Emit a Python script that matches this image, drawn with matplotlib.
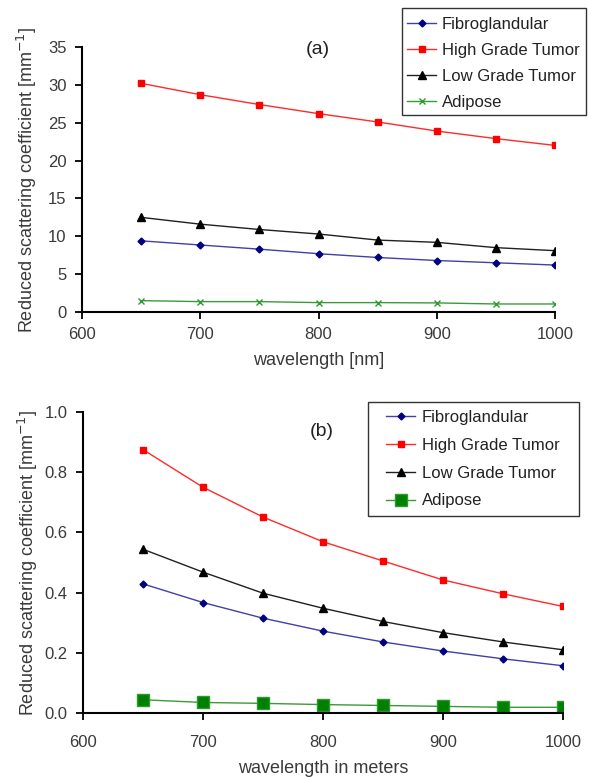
import matplotlib.pyplot as plt
from matplotlib.patches import Rectangle
import numpy as np

plt.rcParams['font.family'] = ['Liberation Sans', 'DejaVu Sans']

# wavelength [nm]
wavelength = [650, 700, 750, 800, 850, 900, 950, 1000]

# (a) reduced scattering coefficient [mm^-1]
fibro_a = [9.4, 8.85, 8.3, 7.7, 7.2, 6.8, 6.5, 6.2]
high_a = [30.2, 28.7, 27.4, 26.2, 25.1, 23.9, 22.9, 22.0]
low_a = [12.5, 11.6, 10.9, 10.3, 9.5, 9.2, 8.5, 8.1]
adipose_a = [1.5, 1.37, 1.37, 1.24, 1.24, 1.2, 1.06, 1.06]

# (b)
fibro_b = [0.429, 0.367, 0.315, 0.272, 0.236, 0.206, 0.180, 0.157]
high_b = [0.875, 0.750, 0.651, 0.569, 0.505, 0.442, 0.396, 0.354]
low_b = [0.544, 0.468, 0.398, 0.348, 0.304, 0.267, 0.236, 0.210]
adipose_b = [0.044, 0.035, 0.032, 0.028, 0.025, 0.022, 0.019, 0.019]

labels = ['Fibroglandular', 'High Grade Tumor', 'Low Grade Tumor', 'Adipose']
ylab = r'Reduced scattering coefficient [mm$^{-1}$]'
txt = '#3a3a3a'

W, H = 590, 777
fig = plt.figure(figsize=(5.9, 7.77), dpi=100)
ax1 = fig.add_axes([82 / W, 1 - 312 / H, 473 / W, 265 / H])
ax2 = fig.add_axes([83 / W, 1 - 713 / H, 480 / W, 301 / H])


def style_axis(ax, xpad):
    for s in ['top', 'right']:
        ax.spines[s].set_visible(False)
    for s in ['left', 'bottom']:
        ax.spines[s].set_linewidth(1.5)
    ax.tick_params(direction='out', length=5, width=1.3, labelsize=12,
                   labelcolor=txt)
    ax.tick_params(axis='y', pad=6)
    ax.tick_params(axis='x', pad=xpad)
    ax.set_xlim(600, 1000)
    ax.set_xticks([600, 700, 800, 900, 1000])


def plot_series(ax, data, adipose_marker, adipose_ms):
    fibro, high, low, adipose = data
    ax.plot(wavelength, fibro, color='#4040a8', lw=1, marker='D', ms=3.5,
            mfc='#000080', mec='#000080', label=labels[0])
    ax.plot(wavelength, high, color='#ff2a2a', lw=1, marker='s', ms=5,
            mfc='#ff0000', mec='#ff0000', label=labels[1])
    ax.plot(wavelength, low, color='#202020', lw=1, marker='^', ms=6,
            mfc='black', mec='black', label=labels[2])
    ax.plot(wavelength, adipose, color='#3a9a3a', lw=1,
            marker=adipose_marker, ms=adipose_ms, mfc='#008000',
            mec='#2e9a2e', label=labels[3])


def add_legend(ax, x0, y0, spacing, tpad, box):
    leg = ax.legend(loc='upper left', bbox_to_anchor=(x0 / W, 1 - y0 / H),
                    bbox_transform=fig.transFigure, fontsize=12,
                    frameon=False, handlelength=1.74, borderpad=0,
                    borderaxespad=0, labelspacing=spacing,
                    handletextpad=tpad)
    for t in leg.get_texts():
        t.set_color('#222222')
    bx0, by0, bx1, by1 = box
    fig.patches.append(Rectangle((bx0 / W, 1 - by1 / H), (bx1 - bx0) / W,
                                 (by1 - by0) / H, transform=fig.transFigure,
                                 fill=False, edgecolor='#333333', lw=1))


# panel (a)
plot_series(ax1, [fibro_a, high_a, low_a, adipose_a], 'x', 4)
style_axis(ax1, 6)
ax1.set_ylim(0, 35)
ax1.set_yticks(range(0, 36, 5))
ax1.set_xlabel('wavelength [nm]', fontsize=13, color=txt, labelpad=7)
ax1.set_ylabel(ylab, fontsize=13, color=txt)
ax1.yaxis.set_label_coords(-0.09, 0.5)
add_legend(ax1, 407, 17, 0.65, 0.36, (402, 8, 586, 115))
fig.text(318 / W, 1 - 50 / H, '(a)', fontsize=14, ha='center', va='center',
         color='#222222')

# panel (b)
plot_series(ax2, [fibro_b, high_b, low_b, adipose_b], 's', 8)
style_axis(ax2, 11)
ax2.set_ylim(0, 1.0)
ax2.set_yticks(np.arange(0, 1.01, 0.2))
ax2.set_yticklabels(['0.0', '0.2', '0.4', '0.6', '0.8', '1.0'])
ax2.set_xlabel('wavelength in meters', fontsize=13, color=txt, labelpad=7)
ax2.set_ylabel(ylab, fontsize=13, color=txt)
ax2.yaxis.set_label_coords(-0.09, 0.5)
add_legend(ax2, 386, 410, 0.77, 0.42, (368, 402, 579, 516))
fig.text(322 / W, 1 - 432 / H, '(b)', fontsize=14, ha='center', va='center',
         color='#222222')

fig.savefig('out.png', dpi=100)
